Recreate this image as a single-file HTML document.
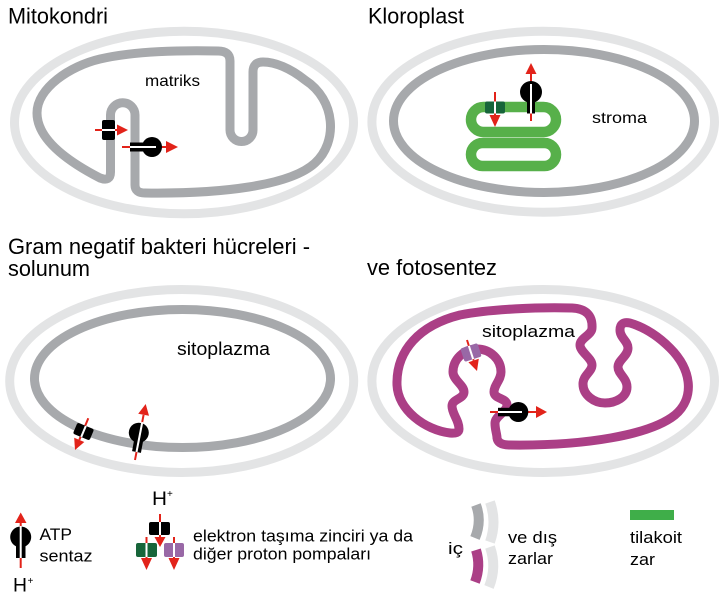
<!DOCTYPE html>
<html>
<head>
<meta charset="utf-8">
<style>
  html, body { margin:0; padding:0; background:#fff; }
  svg { display:block; }
  text { font-family: "Liberation Sans", Arial, sans-serif; fill:#000; }
</style>
</head>
<body>
<svg width="727" height="600" viewBox="0 0 727 600" xmlns="http://www.w3.org/2000/svg">
  <rect width="727" height="600" fill="#fff"/>

  <!-- ============ Panel 1: Mitokondri ============ -->
  <text x="8" y="23.3" font-size="22" textLength="100" lengthAdjust="spacingAndGlyphs">Mitokondri</text>
  <ellipse cx="184" cy="122.5" rx="169.5" ry="91.3" fill="none" stroke="#e3e4e5" stroke-width="9"/>
  <path d="M110.5,172 L110.5,115 A12.25,12.25 0 0 1 135,115 L135,185 Q135,193 145,193 C220,194 290,186 315,163 C338,142 336,100 305,80 C290,68 275,62 263,62 Q253,62 253,72 L253,130 A11.5,11.5 0 0 1 230,130 L230,61 Q230,51 218,51 C170,50 130,52 100,59 C70,66 37,88 37,113 C37,138 65,160 100,178 Q110.5,182 110.5,172 Z" fill="none" stroke="#a7a9ac" stroke-width="9" stroke-linejoin="round"/>
  <text x="145" y="86" font-size="16" textLength="55" lengthAdjust="spacingAndGlyphs">matriks</text>
  <!-- pump -->
  <line x1="95" y1="130" x2="119" y2="130" stroke="#e2231a" stroke-width="2"/>
  <polygon points="117,124.5 128,130 117,135.5" fill="#e2231a"/>
  <rect x="102" y="120" width="13" height="20" rx="2" fill="#000"/>
  <line x1="102" y1="130" x2="115" y2="130" stroke="#fff" stroke-width="2"/>
  <!-- ATP synthase -->
  <line x1="122" y1="147" x2="168" y2="147" stroke="#e2231a" stroke-width="2"/>
  <polygon points="166,141 178,147 166,153" fill="#e2231a"/>
  <rect x="130" y="142.5" width="16" height="9" fill="#000"/>
  <circle cx="152" cy="147" r="10" fill="#000"/>
  <line x1="130" y1="147" x2="156" y2="147" stroke="#fff" stroke-width="2"/>

  <!-- ============ Panel 2: Kloroplast ============ -->
  <text x="368" y="23.3" font-size="22" textLength="96" lengthAdjust="spacingAndGlyphs">Kloroplast</text>
  <ellipse cx="543.2" cy="121.7" rx="171.3" ry="90.5" fill="none" stroke="#e3e4e5" stroke-width="9"/>
  <ellipse cx="544" cy="121" rx="150.5" ry="71.5" fill="none" stroke="#a7a9ac" stroke-width="9"/>
  <rect x="471" y="107" width="85" height="25" rx="12.5" fill="none" stroke="#57b04a" stroke-width="10.5"/>
  <rect x="471" y="143" width="85" height="23" rx="11.5" fill="none" stroke="#57b04a" stroke-width="10.5"/>
  <text x="592" y="123" font-size="16" textLength="55" lengthAdjust="spacingAndGlyphs">stroma</text>
  <!-- green pump -->
  <line x1="495" y1="92" x2="495" y2="116" stroke="#e2231a" stroke-width="2"/>
  <polygon points="489.5,115 500.5,115 495,127" fill="#e2231a"/>
  <rect x="485" y="101.5" width="20" height="12" rx="2" fill="#17653a"/>
  <line x1="495" y1="101.5" x2="495" y2="113.5" stroke="#fff" stroke-width="2"/>
  <!-- ATP synthase -->
  <line x1="531" y1="121" x2="531" y2="72" stroke="#e2231a" stroke-width="2"/>
  <polygon points="525.5,74 536.5,74 531,63" fill="#e2231a"/>
  <rect x="527" y="92" width="8" height="21.5" fill="#000"/>
  <circle cx="531" cy="92" r="11" fill="#000"/>
  <line x1="531" y1="84" x2="531" y2="113.5" stroke="#fff" stroke-width="2"/>

  <!-- ============ Panel 3: Gram negatif ============ -->
  <text x="8" y="254" font-size="22" textLength="302" lengthAdjust="spacingAndGlyphs">Gram negatif bakteri hücreleri -</text>
  <text x="8" y="276" font-size="22" textLength="82" lengthAdjust="spacingAndGlyphs">solunum</text>
  <ellipse cx="181.7" cy="381" rx="172" ry="91.5" fill="none" stroke="#e3e4e5" stroke-width="9"/>
  <ellipse cx="182.5" cy="378.5" rx="148" ry="69" fill="none" stroke="#a7a9ac" stroke-width="9"/>
  <text x="177" y="355" font-size="18" textLength="93" lengthAdjust="spacingAndGlyphs">sitoplazma</text>
  <!-- pump -->
  <line x1="88.3" y1="418.3" x2="79.3" y2="439.9" stroke="#e2231a" stroke-width="2"/>
  <polygon points="84.3,442 74.2,437.7 75,450" fill="#e2231a"/>
  <g transform="translate(83.5,431.5) rotate(22.8)">
    <rect x="-9" y="-6" width="18" height="12" rx="2" fill="#000"/>
    <line x1="0" y1="-6" x2="0" y2="6" stroke="#fff" stroke-width="2"/>
  </g>
  <!-- ATP synthase -->
  <line x1="135" y1="460" x2="143.6" y2="414.8" stroke="#e2231a" stroke-width="2"/>
  <polygon points="149,415.8 138.2,413.8 145.7,404" fill="#e2231a"/>
  <line x1="140" y1="433" x2="136.5" y2="452" stroke="#000" stroke-width="9"/>
  <circle cx="138.8" cy="432.7" r="10" fill="#000"/>
  <line x1="142.3" y1="422" x2="136.5" y2="452" stroke="#fff" stroke-width="2"/>

  <!-- ============ Panel 4: ve fotosentez ============ -->
  <text x="367" y="275" font-size="22" textLength="130" lengthAdjust="spacingAndGlyphs">ve fotosentez</text>
  <ellipse cx="543.2" cy="381" rx="171.3" ry="91.5" fill="none" stroke="#e3e4e5" stroke-width="9"/>
  <path d="M459,429 C459,420 452,414 452,406 C452,399 464,399 464,392 C464,385 453,380 453,372 A24,23 0 0 1 501,372 C501,380 494,385 494,392 C494,399 507,398 507,405 C507,412 495,416 495,423 C495,430 497,434 497,438 Q498,445 510,445 C585,446 650,435 675,415 C695,398 692,370 670,348 C655,333 640,326 630,323 Q620,321 620,330 C620,338 628,341 628,348 C628,356 618,360 618,367 C618,374 627,378 627,387 C627,397 616,403 605,403 C594,403 583,395 583,384 C583,375 592,372 592,365 C592,358 580,352 580,345 C580,338 592,335 592,328 Q593,309 572,308 C540,307 490,309 460,315 C420,325 396,350 397,385 C398,410 425,430 450,433 Q459,434 459,429 Z" fill="none" stroke="#ab3f86" stroke-width="9" stroke-linejoin="round"/>
  <text x="482" y="337" font-size="17" textLength="93" lengthAdjust="spacingAndGlyphs">sitoplazma</text>
  <!-- purple pump -->
  <line x1="467" y1="340" x2="473.6" y2="360.5" stroke="#e2231a" stroke-width="2"/>
  <polygon points="478.8,358.8 468.4,362.2 477,371" fill="#e2231a"/>
  <g transform="translate(471,352.5) rotate(-18)">
    <rect x="-9" y="-7" width="18" height="14" rx="2" fill="#9968a6"/>
    <line x1="0" y1="-7" x2="0" y2="7" stroke="#fff" stroke-width="2"/>
  </g>
  <!-- ATP synthase -->
  <line x1="490" y1="412" x2="537" y2="412" stroke="#e2231a" stroke-width="2"/>
  <polygon points="536,406 547,412 536,418" fill="#e2231a"/>
  <rect x="498" y="407.8" width="16" height="8.5" fill="#000"/>
  <circle cx="518.3" cy="412" r="10" fill="#000"/>
  <line x1="498" y1="412" x2="522" y2="412" stroke="#fff" stroke-width="2"/>

  <!-- ============ Legend ============ -->
  <!-- ATP synthase icon -->
  <line x1="20.7" y1="568" x2="20.7" y2="522" stroke="#e2231a" stroke-width="2"/>
  <polygon points="15,523 26.5,523 20.7,512.5" fill="#e2231a"/>
  <rect x="16" y="537" width="9.5" height="21" fill="#000"/>
  <circle cx="20.7" cy="537" r="10.5" fill="#000"/>
  <line x1="20.7" y1="526" x2="20.7" y2="558" stroke="#fff" stroke-width="2"/>
  <text x="13" y="591.7" font-size="19" textLength="14" lengthAdjust="spacingAndGlyphs">H</text>
  <text x="27.5" y="584" font-size="10">+</text>
  <text x="39.5" y="540" font-size="17" textLength="32.5" lengthAdjust="spacingAndGlyphs">ATP</text>
  <text x="39.5" y="561.5" font-size="17" textLength="53" lengthAdjust="spacingAndGlyphs">sentaz</text>

  <!-- pumps icon -->
  <text x="152" y="505" font-size="19" textLength="15" lengthAdjust="spacingAndGlyphs">H</text>
  <text x="167" y="497" font-size="10">+</text>
  <line x1="160" y1="514" x2="160" y2="538" stroke="#e2231a" stroke-width="2"/>
  <polygon points="154.5,537 165.5,537 160,547" fill="#e2231a"/>
  <rect x="149" y="522" width="21" height="13" rx="2" fill="#000"/>
  <line x1="160" y1="522" x2="160" y2="535" stroke="#fff" stroke-width="2"/>

  <line x1="146.5" y1="537" x2="146.5" y2="559" stroke="#e2231a" stroke-width="2"/>
  <polygon points="141,558 152,558 146.5,570" fill="#e2231a"/>
  <rect x="136" y="543" width="21" height="14" rx="2" fill="#17653a"/>
  <line x1="146.5" y1="543" x2="146.5" y2="557" stroke="#fff" stroke-width="2"/>

  <line x1="174" y1="537" x2="174" y2="559" stroke="#e2231a" stroke-width="2"/>
  <polygon points="168.5,558 179.5,558 174,570" fill="#e2231a"/>
  <rect x="164" y="543" width="20" height="14" rx="2" fill="#9968a6"/>
  <line x1="174" y1="543" x2="174" y2="557" stroke="#fff" stroke-width="2"/>

  <text x="193" y="541.5" font-size="17" textLength="220" lengthAdjust="spacingAndGlyphs">elektron taşıma zinciri ya da</text>
  <text x="193" y="559.5" font-size="17" textLength="178" lengthAdjust="spacingAndGlyphs">diğer proton pompaları</text>

  <!-- membranes legend -->
  <path d="M476,505 Q482,521 475,538" fill="none" stroke="#a7a9ac" stroke-width="10"/>
  <path d="M490,502 Q497,522 490,542" fill="none" stroke="#e3e4e5" stroke-width="10"/>
  <path d="M476,550 Q481,566 475,582" fill="none" stroke="#ab3f86" stroke-width="10"/>
  <path d="M490,547 Q497,567 489,587" fill="none" stroke="#e3e4e5" stroke-width="10"/>
  <text x="448" y="554" font-size="17" textLength="15" lengthAdjust="spacingAndGlyphs">iç</text>
  <text x="508" y="543" font-size="17" textLength="49" lengthAdjust="spacingAndGlyphs">ve dış</text>
  <text x="508" y="564" font-size="17" textLength="45" lengthAdjust="spacingAndGlyphs">zarlar</text>

  <!-- thylakoid legend -->
  <rect x="630" y="510" width="44" height="10" fill="#3fae49"/>
  <text x="630" y="543" font-size="17" textLength="52" lengthAdjust="spacingAndGlyphs">tilakoit</text>
  <text x="630" y="565" font-size="17" textLength="25" lengthAdjust="spacingAndGlyphs">zar</text>
</svg>
</body>
</html>
